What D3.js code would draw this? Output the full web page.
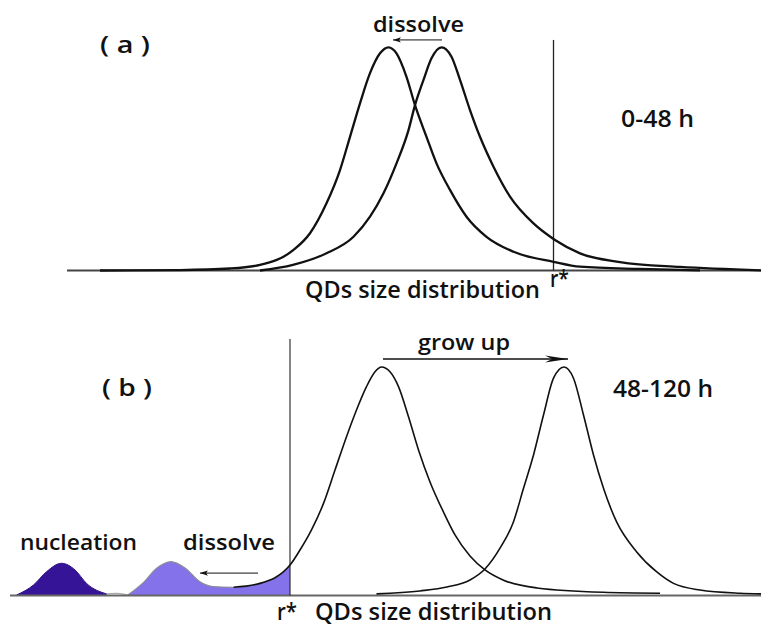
<!DOCTYPE html>
<html>
<head>
<meta charset="utf-8">
<title>QDs size distribution</title>
<script src="https://d3js.org/d3.v7.min.js"></script>
<style>
  body { margin: 0; background: #fff; }
  svg { display: block; }
  text { font-family: "Open Sans", sans-serif; font-weight: 600; fill: #111; }
</style>
</head>
<body>
<div id="graph"></div>
<script>
// x = particle size (arbitrary units), y = intensity in % of peak height

// panel (a), 0-48 h
const aBefore = [[20,0],[36,0.2],[46,0.9],[52,2.5],[58.7,9.2],[62,16.7],[65.3,30.1],[68,45],[70,59.9],[72,74.9],[74,88.4],[76,97.3],[77.7,100],[79.3,97.3],[81.3,86.8],[83,74.1],[85.3,59.9],[87.3,48],[90,36.1],[93.3,24.1],[97.3,15.1],[102.7,8.4],[110.7,3.9],[116,1.7],[128,0.7],[140,0.1]];
const aAfter = [[52,0],[58.6,2.5],[65.3,7.7],[70.7,15.1],[74,24.1],[76.7,34.6],[79.3,48],[81.7,62.9],[83,74.1],[84.7,85.4],[86.3,95.1],[88.3,100],[90.3,95.8],[92,85.4],[94,71.9],[96,59.9],[98.7,46.5],[102,33.1],[106.7,21.1],[111,13.7],[116,7.7],[124,3.8],[136,1.6],[152.2,0.1]];

// panel (b), 48-120 h
const bBefore = [[46.7,3.6],[52,5.3],[58,13.3],[60,19.9],[62.3,28.7],[64.7,40.3],[67,54.9],[69.3,69.5],[71.3,81.2],[73.3,91.4],[75,97.9],[76.3,100],[78,97.9],[79.7,91.4],[81.7,78.2],[83.7,63.7],[86,49.7],[88.7,36.5],[91,26.5],[94,17.3],[97,11.2],[100.6,6.8],[107.4,3.3],[120.6,1.4],[132,1]];
const bAfter = [[75.3,0.7],[84,2],[89.4,3.7],[94,6.8],[97,11.6],[100,20.7],[102.7,32.3],[104.7,46.9],[106.7,61.5],[108.7,79],[110.7,95.1],[112.8,100],[114.7,95.1],[116.7,79],[118.7,61.5],[120.7,46.9],[123.3,32.3],[127.3,19.2],[131.3,10.4],[134.7,5.3],[140,2.4],[148,1],[152.2,0.7]];
const nucleation = [[3.3,0.2],[6.7,4.6],[9.3,10.4],[12.3,14.1],[15,11.2],[17.3,5.3],[21.3,0.7]];
const gap = [[21.3,0.7],[23.5,0.9],[25.6,0.2]];
const dissolving = [[25.6,0.2],[28.6,5.5],[31.4,12],[34.2,14.8],[37,12],[40,6],[42.6,3.9],[46.6,3.6],[52,5.3],[56,9],[58,13.3]];

// critical radius r*
const rStarA = 110.7;
const rStarB = 58;

const width = 761, height = 626;

const svg = d3.select("#graph").append("svg")
    .attr("width", width)
    .attr("height", height);

const x = d3.scaleLinear().domain([0, 152.2]).range([0, width]);
const yA = d3.scaleLinear().domain([0, 100]).range([270.5, 47.3]);
const yB = d3.scaleLinear().domain([0, 100]).range([595.5, 367]);

const defs = svg.append("defs");
defs.append("marker")
    .attr("id", "head-small")
    .attr("markerUnits", "userSpaceOnUse")
    .attr("viewBox", "0 -4 10 8")
    .attr("refX", 9).attr("refY", 0)
    .attr("markerWidth", 9).attr("markerHeight", 7)
    .attr("orient", "auto-start-reverse")
    .append("path")
    .attr("d", "M0,-3L9,0L0,3L2,0Z")
    .attr("fill", "#111");
defs.append("marker")
    .attr("id", "head-long")
    .attr("markerUnits", "userSpaceOnUse")
    .attr("viewBox", "0 -4 24 8")
    .attr("refX", 23).attr("refY", 0)
    .attr("markerWidth", 24).attr("markerHeight", 8)
    .attr("orient", "auto")
    .append("path")
    .attr("d", "M0,-3.5L23,0L0,3.5L7,0Z")
    .attr("fill", "#111");

function lineFor(y) {
    return d3.line().x(d => x(d[0])).y(d => y(d[1])).curve(d3.curveMonotoneX);
}
function areaFor(y) {
    return d3.area().x(d => x(d[0])).y0(y(0)).y1(d => y(d[1])).curve(d3.curveMonotoneX);
}

// text squeezed to the width it takes in the picture (narrow Calibri-like look)
function label(txt, x0, base, w, size) {
    return svg.append("text")
        .attr("x", x0).attr("y", base)
        .attr("textLength", w)
        .attr("lengthAdjust", "spacingAndGlyphs")
        .style("font-size", size + "px")
        .text(txt);
}

// ---------- panel (a)
const gA = svg.append("g");
gA.append("line")
    .attr("x1", x(13.4)).attr("x2", x(152.2))
    .attr("y1", yA(0)).attr("y2", yA(0))
    .attr("stroke", "#444").attr("stroke-width", 2);
gA.append("line")
    .attr("x1", x(rStarA)).attr("x2", x(rStarA))
    .attr("y1", yA(103.3)).attr("y2", yA(0))
    .attr("stroke", "#222").attr("stroke-width", 1.3);
gA.selectAll("path.curve")
    .data([aBefore, aAfter])
    .enter()
    .append("path")
    .attr("class", "curve")
    .attr("d", lineFor(yA))
    .attr("fill", "none")
    .attr("stroke", "#111")
    .attr("stroke-width", 2.3);
gA.append("line")
    .attr("x1", x(88.4)).attr("x2", x(78.6))
    .attr("y1", yA(103.3)).attr("y2", yA(103.3))
    .attr("stroke", "#111").attr("stroke-width", 1)
    .attr("marker-end", "url(#head-small)");

label("( a )", 100, 53, 50, 24);
label("dissolve", 373, 32, 91, 22);
label("0-48 h", 621, 127, 73, 23);
label("QDs size distribution", 305, 298, 235, 23);
label("r*", 550, 287, 19, 23);

// ---------- panel (b)
const gB = svg.append("g");
gB.append("path")
    .datum(nucleation)
    .attr("d", areaFor(yB))
    .attr("fill", "#351497")
    .attr("stroke", "#2c1080")
    .attr("stroke-width", 1);
gB.append("path")
    .datum(dissolving)
    .attr("d", areaFor(yB))
    .attr("fill", "#8372ea");
gB.append("path")
    .datum(dissolving.slice(0, 8))
    .attr("d", lineFor(yB))
    .attr("fill", "none")
    .attr("stroke", "#8a8a98")
    .attr("stroke-width", 1.2);
gB.append("path")
    .datum(gap)
    .attr("d", lineFor(yB))
    .attr("fill", "none")
    .attr("stroke", "#aaa")
    .attr("stroke-width", 1.2);
gB.append("line")
    .attr("x1", x(2)).attr("x2", x(152.2))
    .attr("y1", yB(0)).attr("y2", yB(0))
    .attr("stroke", "#666").attr("stroke-width", 2);
gB.append("line")
    .attr("x1", x(rStarB)).attr("x2", x(rStarB))
    .attr("y1", yB(112.3)).attr("y2", yB(0))
    .attr("stroke", "#222").attr("stroke-width", 1.1);
gB.selectAll("path.curve")
    .data([bBefore, bAfter])
    .enter()
    .append("path")
    .attr("class", "curve")
    .attr("d", lineFor(yB))
    .attr("fill", "none")
    .attr("stroke", "#111")
    .attr("stroke-width", 1.6);
gB.append("line")
    .attr("x1", x(76.6)).attr("x2", x(113.6))
    .attr("y1", yB(103.5)).attr("y2", yB(103.5))
    .attr("stroke", "#111").attr("stroke-width", 1.5)
    .attr("marker-end", "url(#head-long)");
gB.append("line")
    .attr("x1", x(51.6)).attr("x2", x(40))
    .attr("y1", yB(9.8)).attr("y2", yB(9.8))
    .attr("stroke", "#111").attr("stroke-width", 1)
    .attr("marker-end", "url(#head-small)");

label("( b )", 102, 396, 50, 23);
label("grow up", 418, 350, 92, 22);
label("48-120 h", 613, 397, 100, 24);
label("nucleation", 20, 550, 117, 22);
label("dissolve", 183, 550, 92, 22);
label("r*", 277, 620, 20, 24);
label("QDs size distribution", 315, 620, 237, 24);
</script>
</body>
</html>
